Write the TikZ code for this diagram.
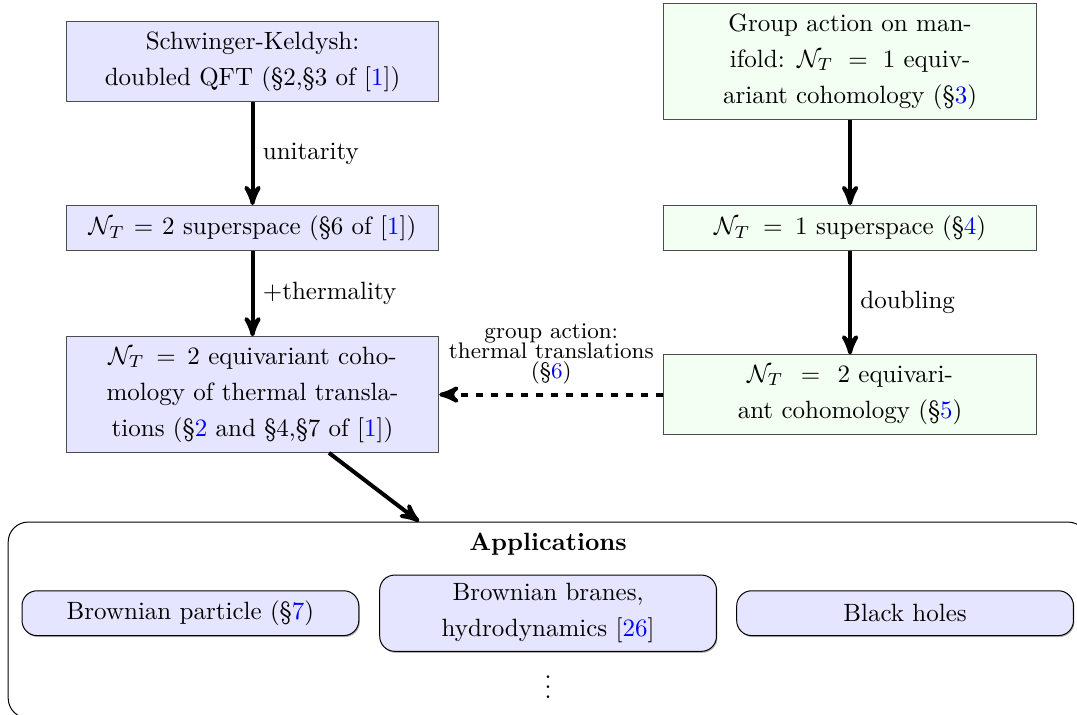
\documentclass[tikz,border=0pt]{standalone}
\usepackage{tikz}
\usetikzlibrary{arrows,shapes,shadows,positioning}
\newcommand{\blu}[1]{\textcolor{blue}{#1}}

\begin{document}
\begin{tikzpicture}[
>=stealth',
box/.style={draw=black!70, text width=5cm, align=center, inner ysep=4pt,
    font=\linespread{1.2}\selectfont},
lbox/.style={box, fill=blue!10},
rbox/.style={box, fill=green!5},
app/.style={draw, rounded corners=6pt, fill=blue!10, text width=4.5cm, align=center,
    minimum height=0.63cm, font=\linespread{1.2}\selectfont,
    drop shadow={shadow xshift=0.4pt, shadow yshift=-0.6pt, fill=black!60}},
link/.style={->, ultra thick},
]
\useasboundingbox (0,0) rectangle (15.14,-10.05);

% left column: doubled theory
\node[lbox] (sk)    at (3.55,-0.865) {Schwinger-Keldysh:\\ doubled QFT (\S2,\S3 of [\blu{1}])};
\node[lbox] (sstwo) at (3.55,-3.206) {$\mathcal{N}_T = 2$ superspace (\S6 of [\blu{1}])};
\node[lbox] (eqtwo) at (3.55,-5.547) {$\mathcal{N}_T = 2$ equivariant cohomology of thermal translations (\S\blu{2} and \S4,\S7 of [\blu{1}])};

% right column: group action
\node[rbox] (grp)   at (11.95,-0.865) {Group action on manifold: $\mathcal{N}_T = 1$ equivariant cohomology (\S\blu{3})};
\node[rbox] (ssone) at (11.95,-3.206) {$\mathcal{N}_T = 1$ superspace (\S\blu{4})};
\node[rbox] (eqone) at (11.95,-5.547) {$\mathcal{N}_T = 2$ equivariant cohomology (\S\blu{5})};

% applications
\node[draw, rounded corners=8pt, minimum width=15.18cm, minimum height=2.756cm] (apps) at (7.705,-8.717) {};
\node[font=\bfseries] (title) at (7.705,-7.649) {Applications};
\node[app] (bbrane) at (7.705,-8.62) {Brownian branes,\\ hydrodynamics [\blu{26}]};
\node[app, left=0.28cm of bbrane] (bpart) {Brownian particle (\S\blu{7})};
\node[app, right=0.27cm of bbrane] (bhole) {Black holes};
\node (dots) at (7.705,-9.56) {$\vdots$};

\draw[link] (sk) -- node[right] {unitarity} (sstwo);
\draw[link] (sstwo) -- node[right] {+thermality} (eqtwo);
\draw[link] (grp) -- (ssone);
\draw[link] (ssone) -- node[right] {doubling} (eqone);
\draw[link, dashed] (eqone) -- node[above, font=\small, align=center] {group action:\\[-3pt] thermal translations\\[-3pt] (\S\blu{6})} (eqtwo);
\draw[link] (eqtwo) -- (apps);

\end{tikzpicture}
\end{document}
